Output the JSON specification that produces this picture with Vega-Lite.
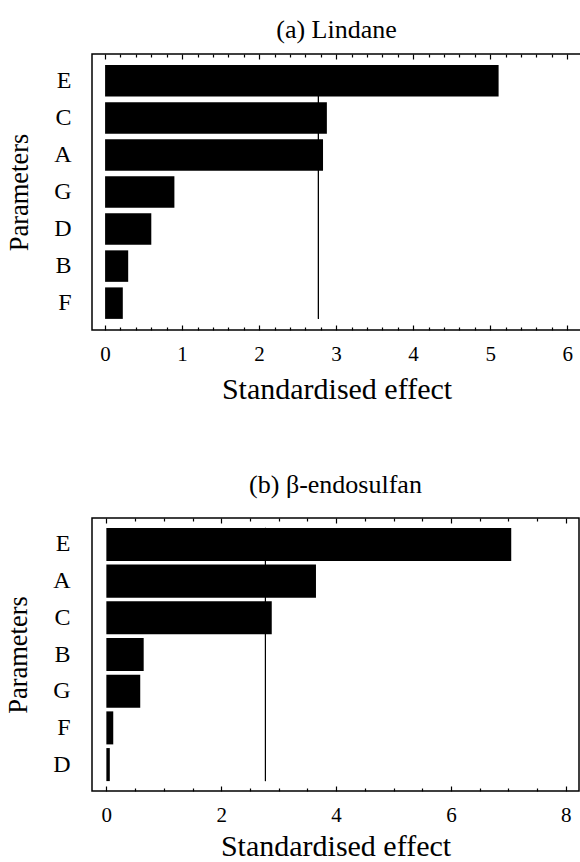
{
  "$schema": "https://vega.github.io/schema/vega-lite/v6.json",
  "padding": {"left": 4, "top": 16, "right": 0, "bottom": 0},
  "background": "white",
  "config": {
    "font": "Liberation Serif",
    "view": {"stroke": "black", "strokeWidth": 1.5},
    "axis": {"domain": false, "grid": false, "tickColor": "black", "tickWidth": 1.2, "labelColor": "black", "titleColor": "black", "labelFont": "Liberation Serif", "titleFont": "Liberation Serif", "titleFontWeight": "normal", "labelFontSize": 21, "titleFontSize": 30},
    "title": {"font": "Liberation Serif", "fontSize": 26, "fontWeight": "normal", "color": "black"},
    "concat": {"spacing": 66}
  },
  "datasets": {
    "a": [
      {"param": "E", "effect": 5.11},
      {"param": "C", "effect": 2.88},
      {"param": "A", "effect": 2.83},
      {"param": "G", "effect": 0.9},
      {"param": "D", "effect": 0.6},
      {"param": "B", "effect": 0.3},
      {"param": "F", "effect": 0.23}
    ],
    "b": [
      {"param": "E", "effect": 7.05},
      {"param": "A", "effect": 3.65},
      {"param": "C", "effect": 2.88},
      {"param": "B", "effect": 0.65},
      {"param": "G", "effect": 0.59},
      {"param": "F", "effect": 0.12},
      {"param": "D", "effect": 0.06}
    ],
    "crit": [{"t": 2.77}]
  },
  "vconcat": [
    {
      "title": {"text": "(a) Lindane", "offset": 10},
      "width": 489,
      "height": 276,
      "resolve": {"axis": {"x": "independent"}},
      "layer": [
        {
          "data": {"name": "a"},
          "mark": {"type": "bar", "color": "black"},
          "encoding": {
            "y": {"field": "param", "type": "nominal", "sort": null, "scale": {"paddingInner": 0.15, "paddingOuter": 0.3}, "axis": {"title": "Parameters", "ticks": false, "labelPadding": 21, "labelFontSize": 24, "titleFontSize": 26.5, "titlePadding": 20}},
            "x": {"field": "effect", "type": "quantitative", "scale": {"domain": [-0.17, 6.18], "nice": false, "zero": false}, "axis": {"orient": "bottom", "values": [0, 1, 2, 3, 4, 5, 6], "tickSize": -5, "labelPadding": 18, "title": "Standardised effect", "titlePadding": 10, "format": "d"}},
            "x2": {"datum": 0}
          }
        },
        {
          "data": {"name": "crit"},
          "mark": {"type": "rule", "color": "black", "strokeWidth": 1},
          "encoding": {
            "x": {"field": "t", "type": "quantitative", "axis": {"orient": "top", "values": [0, 1, 2, 3, 4, 5, 6], "tickSize": -5, "labels": false, "title": null}},
            "y": {"datum": "E", "type": "nominal", "bandPosition": 0},
            "y2": {"datum": "F", "bandPosition": 1}
          }
        },
        {
          "data": {"name": "crit"},
          "mark": {"type": "rule", "color": "black", "strokeWidth": 1},
          "encoding": {
            "x": {"field": "t", "type": "quantitative", "axis": {"orient": "top", "values": [0.2, 0.4, 0.6, 0.8, 1.2, 1.4, 1.6, 1.8, 2.2, 2.4, 2.6, 2.8, 3.2, 3.4, 3.6, 3.8, 4.2, 4.4, 4.6, 4.8, 5.2, 5.4, 5.6, 5.8, 6.2], "tickSize": -3, "labels": false, "title": null}},
            "y": {"datum": "E", "type": "nominal", "bandPosition": 0},
            "y2": {"datum": "F", "bandPosition": 1}
          }
        },
        {
          "data": {"name": "crit"},
          "mark": {"type": "rule", "color": "black", "strokeWidth": 1},
          "encoding": {
            "x": {"field": "t", "type": "quantitative", "axis": {"orient": "bottom", "values": [0.2, 0.4, 0.6, 0.8, 1.2, 1.4, 1.6, 1.8, 2.2, 2.4, 2.6, 2.8, 3.2, 3.4, 3.6, 3.8, 4.2, 4.4, 4.6, 4.8, 5.2, 5.4, 5.6, 5.8], "tickSize": -3, "labels": false, "title": null}},
            "y": {"datum": "E", "type": "nominal", "bandPosition": 0},
            "y2": {"datum": "F", "bandPosition": 1}
          }
        }
      ]
    },
    {
      "title": {"text": "(b) β-endosulfan", "offset": 19},
      "width": 487,
      "height": 273,
      "resolve": {"axis": {"x": "independent"}},
      "layer": [
        {
          "data": {"name": "b"},
          "mark": {"type": "bar", "color": "black"},
          "encoding": {
            "y": {"field": "param", "type": "nominal", "sort": null, "scale": {"paddingInner": 0.1, "paddingOuter": 0.27}, "axis": {"title": "Parameters", "ticks": false, "labelPadding": 22, "labelFontSize": 24, "titleFontSize": 26.5, "titlePadding": 20}},
            "x": {"field": "effect", "type": "quantitative", "scale": {"domain": [-0.25, 8.23], "nice": false, "zero": false}, "axis": {"orient": "bottom", "values": [0, 2, 4, 6, 8], "tickSize": -5, "labelPadding": 18, "title": "Standardised effect", "titlePadding": 6, "format": "d"}},
            "x2": {"datum": 0}
          }
        },
        {
          "data": {"name": "crit"},
          "mark": {"type": "rule", "color": "black", "strokeWidth": 1},
          "encoding": {
            "x": {"field": "t", "type": "quantitative", "axis": {"orient": "top", "values": [0, 2, 4, 6, 8], "tickSize": -5, "labels": false, "title": null}},
            "y": {"datum": "E", "type": "nominal", "bandPosition": 0},
            "y2": {"datum": "D", "bandPosition": 1}
          }
        },
        {
          "data": {"name": "crit"},
          "mark": {"type": "rule", "color": "black", "strokeWidth": 1},
          "encoding": {
            "x": {"field": "t", "type": "quantitative", "axis": {"orient": "top", "values": [0.5, 1, 1.5, 2.5, 3, 3.5, 4.5, 5, 5.5, 6.5, 7, 7.5], "tickSize": -3, "labels": false, "title": null}},
            "y": {"datum": "E", "type": "nominal", "bandPosition": 0},
            "y2": {"datum": "D", "bandPosition": 1}
          }
        },
        {
          "data": {"name": "crit"},
          "mark": {"type": "rule", "color": "black", "strokeWidth": 1},
          "encoding": {
            "x": {"field": "t", "type": "quantitative", "axis": {"orient": "bottom", "values": [0.5, 1, 1.5, 2.5, 3, 3.5, 4.5, 5, 5.5, 6.5, 7, 7.5], "tickSize": -3, "labels": false, "title": null}},
            "y": {"datum": "E", "type": "nominal", "bandPosition": 0},
            "y2": {"datum": "D", "bandPosition": 1}
          }
        }
      ]
    }
  ]
}
